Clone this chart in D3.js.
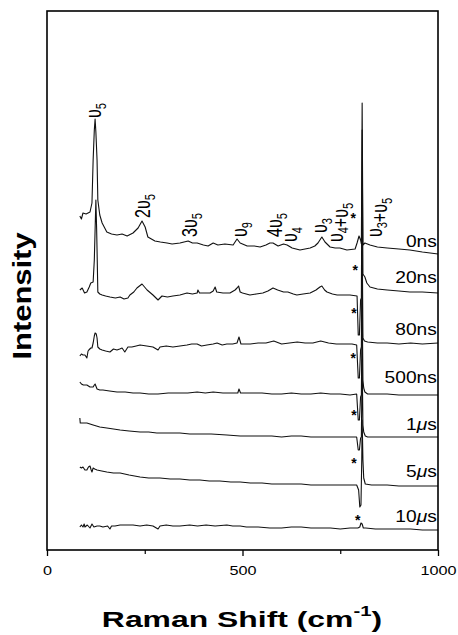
<!DOCTYPE html>
<html>
<head>
<meta charset="utf-8">
<script src="https://cdn.jsdelivr.net/npm/d3@7"></script>
<style>
  body { margin: 0; background: #fff; }
  svg { display: block; font-family: "Liberation Sans", Arial, sans-serif; }
</style>
</head>
<body>
<svg id="chart" width="458" height="635"></svg>
<script>
// spectra: [Raman shift, intensity incl. vertical offset]
var s0ns = [[84,334],[88,331],[92,337],[100,336],[110,338],[115,347],[118,390],[121,420],[123,431],[125,418],[128,390],[130,350],[135,335],[141,327],[153,318],[165,316],[179,315],[192,316],[205,314],[220,317],[233,322],[243,329],[251,323],[258,313],[276,309],[290,308],[307,307],[320,306],[340,307],[361,309],[372,307],[384,307],[400,305],[412,304],[425,307],[437,305],[455,306],[476,305],[486,311],[494,307],[512,304],[530,304],[545,303],[560,305],[570,307],[578,307],[591,304],[605,306],[614,305],[627,302],[647,300],[660,301],[673,302],[685,304],[693,307],[703,313],[711,308],[724,303],[737,302],[749,302],[767,300],[788,301],[793,307],[798,314],[802,310],[804,306],[806,447],[808,305],[813,307],[826,305],[845,303],[870,302],[900,301],[928,300],[960,298],[1000,296]];
var s20ns = [[84,260],[90,262],[96,257],[102,258],[108,263],[112,267],[118,268],[121,290],[123,320],[125,350],[127,320],[128,300],[130,258],[135,256],[141,255],[150,254],[161,253],[175,252],[187,253],[197,251],[207,252],[212,255],[222,258],[230,262],[243,266],[256,260],[271,255],[284,250],[294,254],[308,253],[322,254],[340,255],[358,257],[372,256],[384,257],[386,260],[390,257],[405,257],[417,257],[425,259],[430,263],[434,258],[450,257],[468,257],[481,260],[486,262],[490,264],[494,258],[500,257],[519,255],[535,256],[552,257],[565,259],[578,262],[590,260],[605,258],[616,258],[630,256],[639,255],[655,256],[673,257],[688,260],[698,263],[703,264],[710,260],[716,258],[730,256],[742,255],[760,255],[775,255],[793,254],[796,215],[799,215],[802,250],[804,252],[806,420],[808,276],[813,273],[818,267],[826,263],[845,261],[870,260],[900,259],[928,258],[960,258],[1000,257]];
var s80ns = [[84,194],[88,196],[92,195],[97,195],[102,192],[105,199],[107,200],[112,202],[115,202],[118,207],[121,214],[123,217],[126,216],[128,212],[130,203],[135,201],[141,200],[150,199],[161,198],[170,201],[179,200],[186,201],[192,202],[199,198],[207,203],[217,203],[228,204],[238,205],[255,204],[271,203],[284,200],[289,203],[305,204],[322,203],[340,204],[358,205],[370,206],[384,206],[395,204],[409,205],[425,206],[435,207],[448,205],[460,206],[475,206],[486,207],[491,213],[496,206],[508,206],[520,206],[540,207],[560,207],[580,209],[600,206],[620,207],[640,208],[660,207],[680,207],[700,209],[720,207],[740,206],[760,206],[780,206],[792,205],[796,172],[799,172],[802,200],[804,203],[806,320],[808,212],[812,209],[820,208],[845,207],[870,207],[900,206],[930,207],[960,206],[1000,207]];
var s500ns = [[84,168],[88,166],[93,165],[102,165],[110,163],[118,163],[121,165],[123,166],[126,163],[128,161],[135,160],[143,160],[160,159],[179,158],[200,158],[220,157],[238,157],[260,156],[284,156],[310,157],[340,157],[360,157],[384,158],[405,157],[425,158],[450,157],[476,157],[488,157],[491,161],[495,157],[520,157],[550,157],[575,156],[600,156],[625,157],[650,156],[675,156],[700,157],[725,156],[750,156],[775,155],[792,156],[796,130],[799,130],[802,153],[804,155],[806,250],[808,170],[810,162],[813,158],[820,156],[845,156],[870,156],[900,155],[930,155],[960,155],[1000,155]];
var s1us = [[84,132],[85,127],[90,127],[102,127],[110,126],[118,125],[135,123],[153,122],[170,121],[187,120],[210,119],[238,118],[260,118],[281,117],[310,117],[340,117],[365,116],[391,116],[420,116],[460,115],[494,114],[520,114],[550,114],[575,114],[600,113],[625,114],[650,114],[675,113],[700,113],[725,113],[750,113],[775,113],[792,113],[796,100],[799,100],[802,112],[804,113],[806,190],[808,125],[810,118],[814,114],[820,113],[845,113],[870,113],[900,113],[930,113],[960,113],[1000,113]];
var s5us = [[84,83],[88,82],[92,83],[97,80],[102,80],[106,83],[110,84],[113,80],[115,78],[118,82],[122,81],[128,80],[140,79],[153,78],[170,77],[187,77],[210,75],[238,73],[260,72],[289,72],[315,71],[340,71],[365,70],[391,70],[415,69],[442,69],[470,68],[494,68],[520,67],[550,67],[575,66],[600,66],[625,66],[650,66],[675,65],[700,65],[725,65],[750,65],[775,65],[792,65],[797,60],[800,43],[803,45],[805,90],[806,130],[808,90],[810,72],[814,66],[830,65],[870,65],[900,64],[930,64],[960,64],[1000,64]];
var s10us = [[84,23],[88,25],[92,23],[95,26],[97,23],[103,25],[110,22],[115,26],[120,23],[128,24],[135,24],[143,23],[155,24],[161,21],[165,24],[174,24],[187,25],[200,25],[220,25],[238,24],[255,25],[271,24],[284,21],[289,24],[305,25],[322,24],[340,24],[365,25],[385,24],[407,25],[430,24],[460,25],[475,24],[494,24],[510,23],[540,23],[570,22],[600,22],[625,23],[650,23],[675,22],[700,22],[725,22],[750,21],[775,22],[795,22],[800,23],[803,27],[806,26],[809,22],[815,22],[840,21],[870,21],[900,21],[930,21],[960,20],[1000,20]];

var spectra = [s0ns, s20ns, s80ns, s500ns, s1us, s5us, s10us];

// delay labels (right side) : text, level
var delayNames = ["0ns", "20ns", "80ns", "500ns", "1\u03bcs", "5\u03bcs", "10\u03bcs"];
var delayLevels = [303, 267, 215, 167, 120, 73, 28];

// asterisk marks: shift, level
var starShift = [783, 788, 785, 783, 785, 785, 795];
var starLevel = [335, 283, 240, 195, 138, 90, 33];

// band assignments ("_" = next char is subscript): text, shift, level
var bandNames = ["\u03c5_5", "2\u03c5_5", "3\u03c5_5", "\u03c5_9", "4\u03c5_5", "\u03c5_4", "\u03c5_3", "\u03c5_4+\u03c5_5", "\u03c5_3+\u03c5_5"];
var bandShift = [138, 263, 384, 512, 601, 639, 716, 757, 857];
var bandLevel = [432, 332, 313, 313, 313, 308, 317, 308, 313];

var xTicks = [0, 500, 1000];
var xMinor = [250, 750];

var svg = d3.select("#chart");
var x = d3.scaleLinear().domain([0, 1000]).range([47, 438]);
var y = d3.scaleLinear().domain([0, 539]).range([550, 11]);

// ticks on the bottom
var axis = svg.append("g")
  .attr("transform", "translate(0,550)")
  .call(d3.axisBottom(x).tickValues(xTicks).tickSize(6).tickPadding(10).tickFormat(d3.format("d")));
axis.select(".domain").remove();
axis.selectAll("line").attr("stroke", "#000").attr("stroke-width", 1.3);
axis.selectAll("text")
  .attr("font-size", 12.5)
  .attr("font-family", "Liberation Sans, Arial, sans-serif")
  .attr("fill", "#000")
  .attr("transform", "scale(1.3,1)");

var minor = svg.append("g")
  .attr("transform", "translate(0,550)")
  .call(d3.axisBottom(x).tickValues(xMinor).tickSize(4).tickFormat(""));
minor.select(".domain").remove();
minor.selectAll("line").attr("stroke", "#000").attr("stroke-width", 1.2);

// the spectra
var line = d3.line()
  .x(function(d) { return x(d[0]); })
  .y(function(d) { return y(d[1]); });

svg.append("g").selectAll("path")
  .data(spectra)
  .enter().append("path")
  .attr("d", line)
  .attr("fill", "none")
  .attr("stroke", "#111")
  .attr("stroke-width", 1.1)
  .attr("stroke-linejoin", "round");

// frame
svg.append("rect")
  .attr("x", x(0)).attr("y", y(539))
  .attr("width", x(1000) - x(0)).attr("height", y(0) - y(539))
  .attr("fill", "none").attr("stroke", "#000").attr("stroke-width", 1.6);

// delay labels
delayNames.forEach(function(t, i) {
  var tx = svg.append("text")
    .attr("transform", "translate(" + x(997) + "," + y(delayLevels[i]) + ") scale(1.2,1)")
    .attr("text-anchor", "end")
    .attr("font-size", 16)
    .attr("fill", "#000");
  if (t.indexOf("\u03bc") >= 0) {
    var parts = t.split("\u03bc");
    tx.append("tspan").text(parts[0]);
    tx.append("tspan").attr("font-style", "italic").text("\u03bc");
    tx.append("tspan").text(parts[1]);
  } else {
    tx.text(t);
  }
});

// asterisks
svg.append("g").selectAll("text")
  .data(starShift)
  .enter().append("text")
  .attr("x", function(d) { return x(d); })
  .attr("y", function(d, i) { return y(starLevel[i]) + 8; })
  .attr("text-anchor", "middle")
  .attr("font-size", 14)
  .attr("font-weight", "bold")
  .text("*");

// band labels, rotated
bandNames.forEach(function(t, i) {
  var tx = svg.append("text")
    .attr("transform", "translate(" + x(bandShift[i]) + "," + y(bandLevel[i]) + ") rotate(-90) scale(1,1.4)")
    .attr("font-size", 16)
    .attr("fill", "#000");
  var sub = false;
  for (var k = 0; k < t.length; k++) {
    var c = t[k];
    if (c === "_") { sub = true; continue; }
    if (sub) {
      tx.append("tspan").attr("font-size", 11).attr("dy", 3.5).text(c);
      tx.append("tspan").attr("dy", -3.5).text("");
      sub = false;
    } else {
      tx.append("tspan").text(c);
    }
  }
});

// axis titles
svg.append("text")
  .attr("transform", "translate(31,296) rotate(-90) scale(1.19,1)")
  .attr("text-anchor", "middle")
  .attr("font-size", 26)
  .attr("font-weight", "bold")
  .text("Intensity");

var xt = svg.append("text")
  .attr("transform", "translate(242,627) scale(1.45,1)")
  .attr("text-anchor", "middle")
  .attr("font-size", 22)
  .attr("font-weight", "bold");
xt.append("tspan").text("Raman Shift (cm");
xt.append("tspan").attr("font-size", 14).attr("dy", -11).text("-1");
xt.append("tspan").attr("dy", 11).text(")");
</script>
</body>
</html>
